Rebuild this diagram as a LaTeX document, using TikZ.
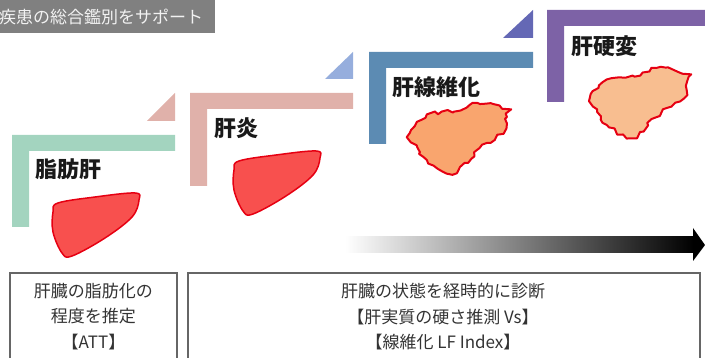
\documentclass[tikz,border=0pt]{standalone}
\usepackage{fontspec}
\setmainfont{Noto Sans CJK JP}
\usetikzlibrary{decorations.pathmorphing}

\definecolor{stepgreen}{HTML}{A3D4BF}
\definecolor{steppink}{HTML}{E0B1AA}
\definecolor{stepblue}{HTML}{5C8BB3}
\definecolor{steppurple}{HTML}{7D62A6}
\definecolor{tripink}{HTML}{E0B1AA}
\definecolor{trisky}{HTML}{96AEDD}
\definecolor{triindigo}{HTML}{6468B5}
\definecolor{liverred}{HTML}{F8504E}
\definecolor{liveredge}{HTML}{E60012}
\definecolor{liverorange}{HTML}{F9A56E}
\definecolor{liverpeach}{HTML}{F8BE90}

\tikzset{
  stagelabel/.style={anchor=west,inner sep=0pt,font=\fontsize{22}{24}\selectfont\bfseries,text=black!90},
  infotext/.style={anchor=north,inner sep=0pt,align=center,font=\fontsize{17}{25.5}\selectfont,text=black!80},
  infobox/.style={draw=black!60,line width=1.2pt},
  smoothliver/.pic={
    \filldraw[fill=liverred,draw=liveredge,line width=1.5pt]
      plot[smooth cycle,tension=0.6] coordinates {(-38,-22) (-1,-28) (39,-32) (43,-25) (36,-8)
        (9,13) (-24,31) (-34,28) (-43,7) (-43,-13)};
  },
  roughliver/.pic={
    \filldraw[draw=liveredge,line width=2pt,line join=round,
      decorate,decoration={random steps,segment length=4.5pt,amplitude=2.2pt}]
      plot[smooth cycle,tension=0.6] coordinates {(49,-28) (19,-35) (2,-28) (-31,-23) (-48,-5)
        (-41,9) (-31,22) (-11,35) (2,29) (29,5) (45,-5) (49,-21)};
  }
}

\begin{document}
\begin{tikzpicture}[x=1pt,y=-1pt]
  \useasboundingbox (0,0) rectangle (705,358);
  \clip (0,0) rectangle (705,358);

  % heading banner
  \fill[black!50] (0,0) rectangle (215,33);
  \node[anchor=west,inner sep=0pt,text=black!5,font=\fontsize{17}{18}\selectfont] (title) at (-1,17) {疾患の総合鑑別をサポート};

  % stair steps
  \foreach \a/\t/\r/\b/\c in {12/135/175/227/stepgreen, 190/93/353/186/steppink,
      369/52/533/144/stepblue, 547/10/710/102/steppurple}
    \fill[\c] (\a,\t) -- (\r,\t) -- (\r,\t+16) -- (\a+17,\t+16) -- (\a+17,\b) -- (\a,\b) -- cycle;

  \fill[tripink] (147,121) -- (175,121) -- (175,93) -- cycle;
  \fill[trisky] (325,79) -- (353,79) -- (353,52) -- cycle;
  \fill[triindigo] (503,38) -- (533,38) -- (533,10) -- cycle;

  \node[stagelabel] (lbl_fatty) at (35,169) {脂肪肝};
  \node[stagelabel] (lbl_hep) at (214,128) {肝炎};
  \node[stagelabel] (lbl_fib) at (392,87) {肝線維化};
  \node[stagelabel] (lbl_cir) at (571,46) {肝硬変};

  % livers
  \pic at (96,225) {smoothliver};
  \pic at (277,183) {smoothliver};
  \pic[fill=liverorange] at (458,138) {roughliver};
  \pic[fill=liverpeach] at (638,103) {roughliver};

  % time arrow
  \shade[left color=white,middle color=black!22,right color=black] (345,237) rectangle (694,253);
  \fill[black] (693,228) -- (705,245) -- (693,261) -- cycle;

  % boxes
  \draw[infobox] (10,273) rectangle (177,370);
  \draw[infobox] (188,273) rectangle (700,370);
  \node[infotext] (txt_att) at (93.5,283) {肝臓の脂肪化の\\程度を推定\\【ATT】};
  \node[infotext] (txt_vs) at (443,283) {肝臓の状態を経時的に診断\\【肝実質の硬さ推測 Vs】\\【線維化 LF Index】};
\end{tikzpicture}
\end{document}
